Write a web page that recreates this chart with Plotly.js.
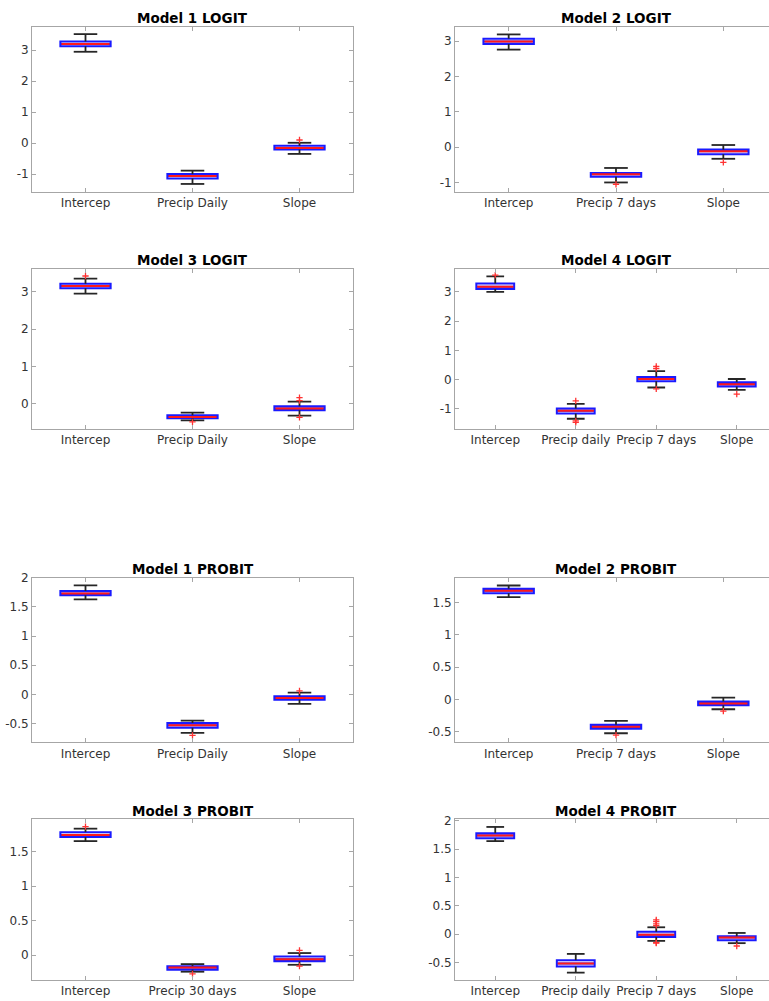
<!DOCTYPE html>
<html>
<head>
<meta charset="utf-8">
<script src="https://cdn.plot.ly/plotly-3.0.1.min.js"></script>
<style>
html,body{margin:0;padding:0;overflow:hidden;background:#fff;}
#chart{width:790px;height:1001px;}
</style>
</head>
<body>
<div id="chart"></div>
<script>
// ---- DATA ----
const panelTitles = ['Model 1 LOGIT','Model 2 LOGIT','Model 3 LOGIT','Model 4 LOGIT',
                     'Model 1 PROBIT','Model 2 PROBIT','Model 3 PROBIT','Model 4 PROBIT'];
const categories = [
  ['Intercep','Precip Daily','Slope'],
  ['Intercep','Precip 7 days','Slope'],
  ['Intercep','Precip Daily','Slope'],
  ['Intercep','Precip daily','Precip 7 days','Slope'],
  ['Intercep','Precip Daily','Slope'],
  ['Intercep','Precip 7 days','Slope'],
  ['Intercep','Precip 30 days','Slope'],
  ['Intercep','Precip daily','Precip 7 days','Slope']
];
const lowerWhisker = [
  [2.95,-1.32,-0.35],
  [2.76,-1.00,-0.33],
  [2.95,-0.44,-0.31],
  [3.00,-1.34,-0.27,-0.35],
  [1.63,-0.66,-0.16],
  [1.58,-0.52,-0.15],
  [1.65,-0.24,-0.14],
  [1.64,-0.68,-0.12,-0.16]
];
const q1 = [
  [3.13,-1.14,-0.21],
  [2.92,-0.84,-0.20],
  [3.09,-0.38,-0.17],
  [3.10,-1.16,-0.06,-0.24],
  [1.70,-0.57,-0.09],
  [1.64,-0.45,-0.09],
  [1.71,-0.21,-0.09],
  [1.69,-0.57,-0.05,-0.11]
];
const medians = [
  [3.20,-1.06,-0.16],
  [2.99,-0.77,-0.12],
  [3.15,-0.35,-0.12],
  [3.18,-1.07,0.02,-0.16],
  [1.73,-0.53,-0.06],
  [1.68,-0.42,-0.06],
  [1.74,-0.18,-0.06],
  [1.74,-0.52,-0.01,-0.06]
];
const q3 = [
  [3.28,-1.00,-0.09],
  [3.07,-0.73,-0.07],
  [3.21,-0.30,-0.06],
  [3.29,-0.99,0.09,-0.09],
  [1.77,-0.49,-0.03],
  [1.71,-0.39,-0.03],
  [1.78,-0.16,-0.02],
  [1.78,-0.46,0.04,-0.04]
];
const upperWhisker = [
  [3.52,-0.89,0.01],
  [3.19,-0.59,0.06],
  [3.35,-0.23,0.06],
  [3.53,-0.83,0.29,0.02],
  [1.87,-0.45,0.03],
  [1.76,-0.33,0.03],
  [1.83,-0.13,0.03],
  [1.89,-0.35,0.12,0.02]
];
const outlierCat = [
  [2],
  [1,2],
  [0,1,2,2,2],
  [0,1,1,1,2,2,2,3],
  [1,2],
  [1,2],
  [0,1,2,2],
  [2,2,2,2,2,2,3]
];
const outlierVal = [
  [0.10],
  [-1.05,-0.43],
  [3.42,-0.48,0.17,0.09,-0.36],
  [3.57,-0.73,-1.41,-1.46,0.45,0.38,-0.32,-0.50],
  [-0.70,0.06],
  [-0.55,-0.18],
  [1.86,-0.27,0.07,-0.16],
  [0.25,0.22,0.18,0.15,-0.15,-0.16,-0.21]
];
const yTickStep = [1,1,1,1,0.5,0.5,0.5,0.5];

// ---- LAYOUT GEOMETRY (pixels) ----
const W = 790, H = 1001;
const colPx = [[32,353],[455,777]];
const rowPx = [[27,192],[268.5,429],[577.7,742.3],[819,980]];
const yRanges = [[-1.58,3.75],[-1.27,3.40],[-0.67,3.62],[-1.69,3.80],
                 [-0.82,2.0],[-0.66,1.88],[-0.36,1.97],[-0.81,2.03]];

const boxW = 0.47, capHalf = 0.11;
const traces = [];
const layout = {
  width: W, height: H,
  margin: {l:0,r:0,t:0,b:0},
  paper_bgcolor:'#fff', plot_bgcolor:'#fff',
  showlegend:false,
  font:{family:'DejaVu Sans, sans-serif', size:12, color:'#333'},
  annotations: []
};

function fmt(v){ return String(Math.round(v*100)/100); }

panelTitles.forEach((title, p) => {
  const ax = p + 1;
  const xa = 'x' + (ax === 1 ? '' : ax), ya = 'y' + (ax === 1 ? '' : ax);
  const cats = categories[p];
  const n = cats.length;
  const idx = cats.map((c,i)=>i);
  const col = p % 2, row = Math.floor(p/2);

  // whiskers
  const wx = [], wy = [];
  idx.forEach(i => {
    wx.push(i,i,null, i,i,null, i-capHalf,i+capHalf,null, i-capHalf,i+capHalf,null);
    wy.push(q3[p][i],upperWhisker[p][i],null, q1[p][i],lowerWhisker[p][i],null,
            upperWhisker[p][i],upperWhisker[p][i],null, lowerWhisker[p][i],lowerWhisker[p][i],null);
  });
  traces.push({type:'scatter',mode:'lines',x:wx,y:wy,xaxis:xa,yaxis:ya,
    line:{color:'#262626',width:1.8},hoverinfo:'skip'});

  // boxes
  traces.push({type:'box',x:idx,q1:q1[p],median:medians[p],q3:q3[p],
    lowerfence:q1[p],upperfence:q3[p],width:boxW,whiskerwidth:0,
    boxpoints:false,xaxis:xa,yaxis:ya,
    line:{color:'#1a1aff',width:2},fillcolor:'#fff5f7',hoverinfo:'skip'});

  // medians
  const mx = [], my = [];
  idx.forEach(i => { mx.push(i-boxW/2+0.01,i+boxW/2-0.01,null); my.push(medians[p][i],medians[p][i],null); });
  traces.push({type:'scatter',mode:'lines',x:mx,y:my,xaxis:xa,yaxis:ya,
    line:{color:'#ff1a1a',width:2},hoverinfo:'skip'});

  // outliers
  traces.push({type:'scatter',mode:'markers',x:outlierCat[p],y:outlierVal[p],xaxis:xa,yaxis:ya,
    marker:{symbol:'cross-thin',size:4.5,color:'#ff3333',line:{color:'#ff3333',width:1.3}},hoverinfo:'skip'});

  // axes
  const yr = yRanges[p];
  const step = yTickStep[p];
  const tv = [];
  for (let v = Math.ceil(yr[0]/step)*step; v <= yr[1]+1e-9; v += step) tv.push(Math.round(v*100)/100);
  const xd = [colPx[col][0]/W, colPx[col][1]/W];
  const yd = [1 - rowPx[row][1]/H, 1 - rowPx[row][0]/H];
  const common = {showline:true, linecolor:'#a6a6a6', linewidth:1, mirror:'ticks',
    ticks:'inside', ticklen:4, tickcolor:'#a6a6a6', showgrid:false, zeroline:false,
    tickfont:{family:'DejaVu Sans, sans-serif', size:12, color:'#333'}, fixedrange:true};
  layout['xaxis' + (ax===1?'':ax)] = Object.assign({}, common, {
    domain: xd, anchor: ya, range:[-0.5, n-0.5],
    tickmode:'array', tickvals: idx, ticktext: cats
  });
  layout['yaxis' + (ax===1?'':ax)] = Object.assign({}, common, {
    domain: yd, anchor: xa, range: yr,
    tickmode:'array', tickvals: tv, ticktext: tv.map(fmt)
  });
  layout.annotations.push({
    text:'<b>'+title+'</b>', xref: xa+' domain', yref: ya+' domain',
    x:0.5, y:1, xanchor:'center', yanchor:'middle', yshift:8.5, showarrow:false,
    font:{family:'DejaVu Sans, sans-serif', size:13.5, color:'#000'}
  });
});

Plotly.newPlot('chart', traces, layout, {displayModeBar:false, staticPlot:true});
</script>
</body>
</html>
